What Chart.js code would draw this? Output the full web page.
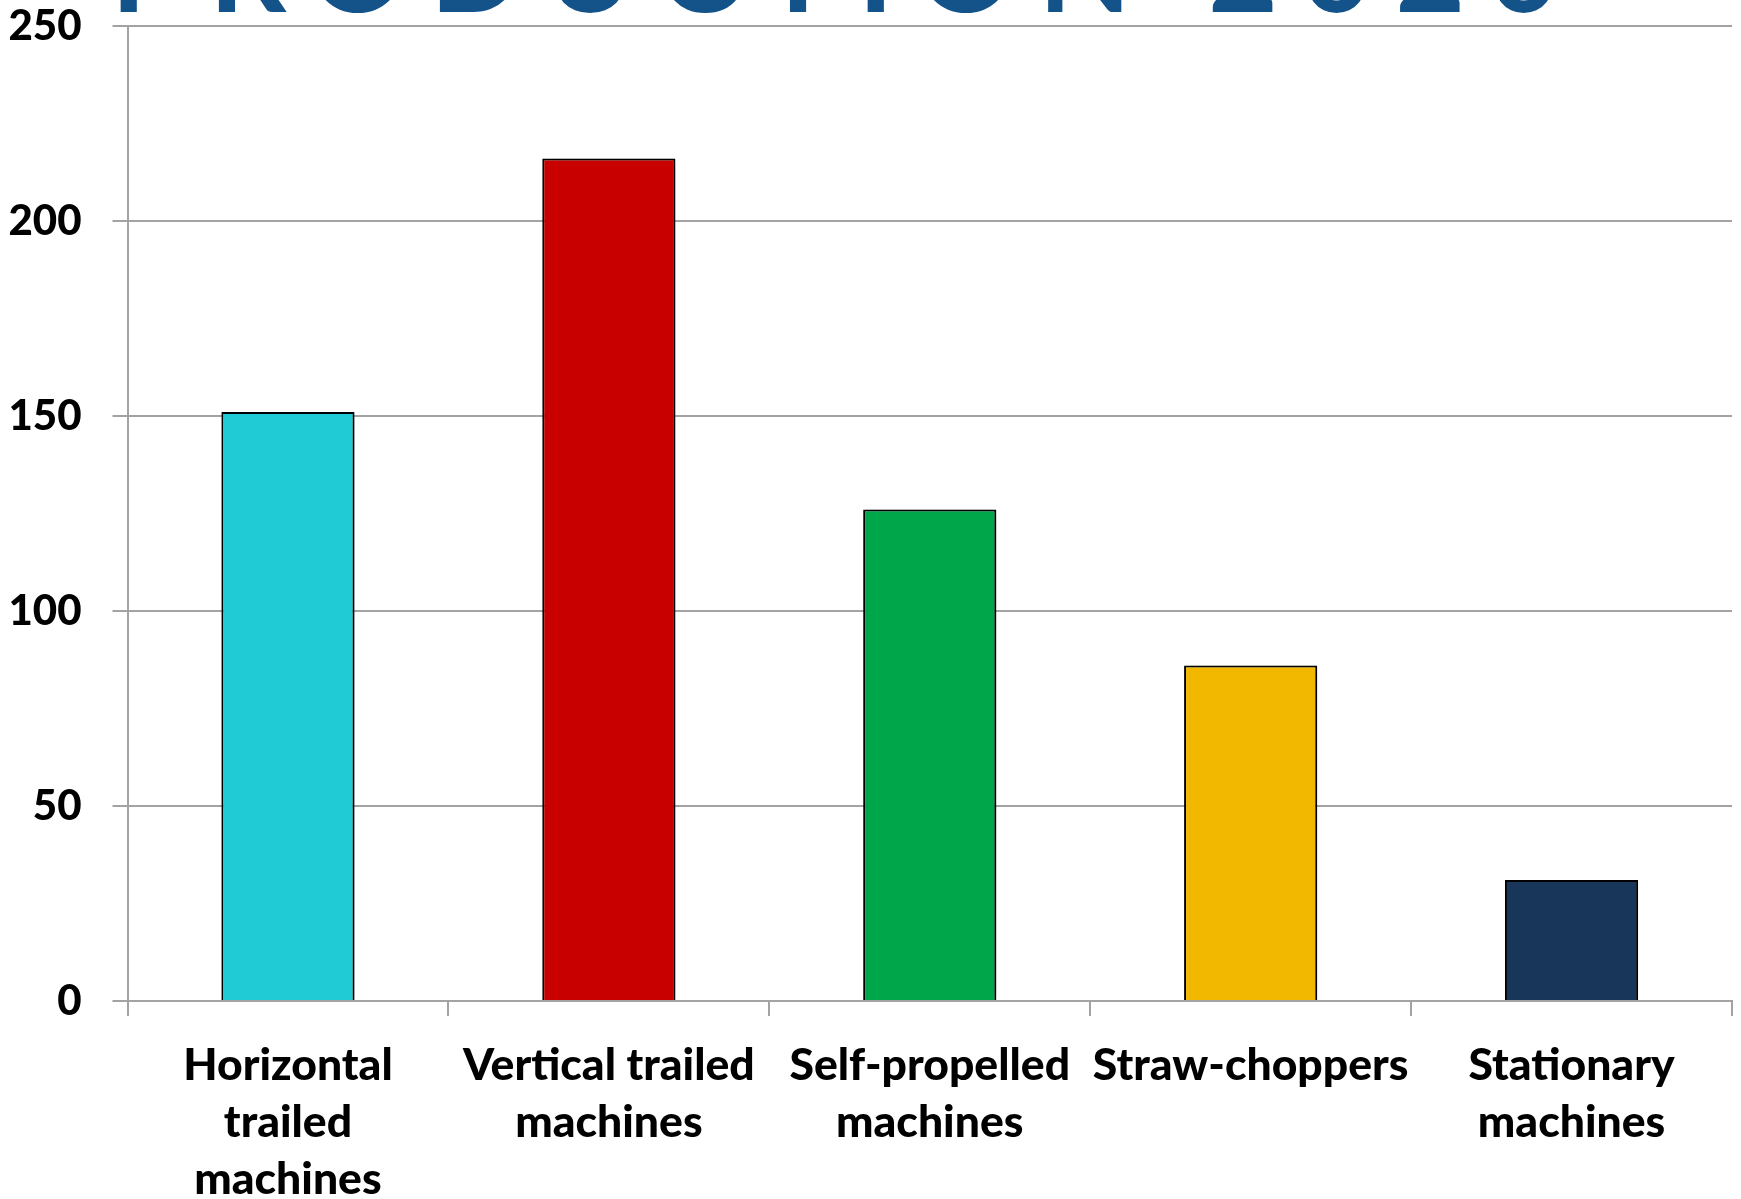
<!DOCTYPE html>
<html>
<head>
<meta charset="utf-8">
<script src="https://cdn.jsdelivr.net/npm/chart.js@4.4.0/dist/chart.umd.min.js"></script>
<style>
  html, body { margin: 0; padding: 0; background: #ffffff; }
  #wrap { position: relative; width: 1741px; height: 1199px; overflow: hidden; }
  canvas { display: block; }
</style>
</head>
<body>
<div id="wrap"><canvas id="c" width="1741" height="1199"></canvas></div>
<script>
const titleText = "PRODUCTION 2020";
const categories = [
  ["Horizontal", "trailed", "machines"],
  ["Vertical trailed", "machines"],
  ["Self-propelled", "machines"],
  ["Straw-choppers"],
  ["Stationary", "machines"]
];
const values = [151, 216, 126, 86, 31];
const barColors = ["#20CBD5", "#C90000", "#00A64A", "#F2B800", "#18355A"];
const yMin = 0, yMax = 250, yStep = 50;

const titlePlugin = {
  id: 'cutTitle',
  afterDraw(chart) {
    const ctx = chart.ctx;
    ctx.save();
    ctx.font = 'bold 120px Lato';
    ctx.fillStyle = '#14538A';
    ctx.textBaseline = 'alphabetic';
    ctx.textAlign = 'left';
    const inkLeftTarget = 120, inkRightTarget = 1556;
    const m = ctx.measureText(titleText);
    const inkW = m.actualBoundingBoxLeft + m.actualBoundingBoxRight;
    const n = titleText.length - 1;
    const ls = (inkRightTarget - inkLeftTarget - inkW) / n;
    const x = inkLeftTarget + m.actualBoundingBoxLeft;
    if ('letterSpacing' in ctx) {
      ctx.letterSpacing = ls + 'px';
      ctx.fillText(titleText, x, 12);
    } else {
      let cx = x;
      for (const ch of titleText) {
        ctx.fillText(ch, cx, 12);
        cx += ctx.measureText(ch).width + ls;
      }
    }
    ctx.restore();
  }
};

const shadowPlugin = {
  id: 'barShadow',
  beforeDatasetsDraw(chart) {
    const ctx = chart.ctx;
    ctx.save();
    ctx.shadowColor = 'rgba(0,0,0,0.30)';
    ctx.shadowBlur = 10;
    ctx.shadowOffsetX = 5;
    ctx.shadowOffsetY = 2;
  },
  afterDatasetsDraw(chart) {
    chart.ctx.restore();
  }
};

const gridColor = '#a3a3a3';
const labelFont = { family: 'Lato', weight: '900', size: 44.5, lineHeight: 57 / 44.5 };

new Chart(document.getElementById('c'), {
  type: 'bar',
  data: {
    labels: categories,
    datasets: [{
      data: values,
      backgroundColor: barColors,
      borderColor: '#000000',
      borderWidth: 2,
      categoryPercentage: 1.0,
      barPercentage: 0.415
    }]
  },
  options: {
    responsive: false,
    animation: false,
    devicePixelRatio: 1,
    layout: { padding: { left: 0, right: 9, top: 0, bottom: 0 } },
    plugins: {
      legend: { display: false },
      title: { display: false },
      tooltip: { enabled: false }
    },
    scales: {
      x: {
        grid: {
          display: true,
          drawOnChartArea: false,
          drawTicks: true,
          tickLength: 15,
          offset: true,
          color: gridColor,
          lineWidth: 2
        },
        border: { display: true, color: gridColor, width: 2 },
        ticks: {
          color: '#000000',
          font: labelFont,
          padding: 21,
          maxRotation: 0,
          autoSkip: false
        },
        afterFit(scale) { scale.height = 198; }
      },
      y: {
        min: yMin,
        max: yMax,
        grid: {
          color: gridColor,
          lineWidth: 2,
          tickLength: 15,
          drawTicks: true
        },
        border: { display: true, color: gridColor, width: 2 },
        ticks: {
          stepSize: yStep,
          color: '#000000',
          font: { family: 'Lato', weight: '900', size: 42 },
          padding: 31
        },
        afterFit(scale) {
          scale.width = 127.5;
          scale.paddingTop = 26;
          scale.paddingBottom = 0;
        }
      }
    }
  },
  plugins: [shadowPlugin, titlePlugin]
});
</script>
</body>
</html>
